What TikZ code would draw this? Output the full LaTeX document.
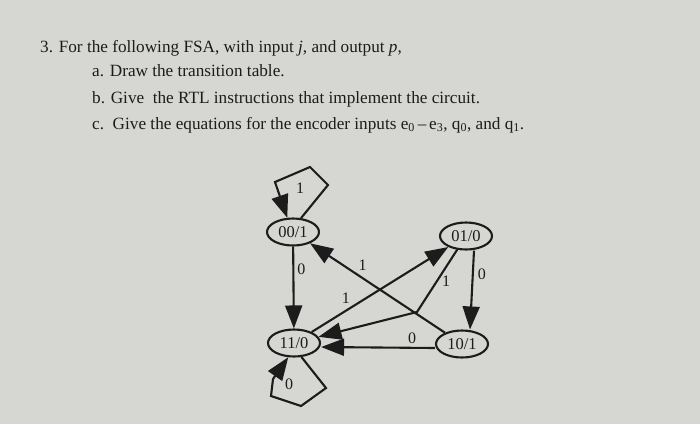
\documentclass[tikz,border=0pt]{standalone}
\usepackage{fontspec}
\setmainfont{Liberation Serif}
\usepackage{xcolor}
\usetikzlibrary{shapes.geometric, arrows.meta, positioning, calc}
\definecolor{paper}{HTML}{D6D6D3}
\definecolor{ink}{HTML}{1C1C1C}

\begin{document}
\begin{tikzpicture}[
    x=1pt, y=-1pt,
    line/.style={text=ink, font=\fontsize{17.2}{19}\selectfont, anchor=base west, inner sep=0pt},
    state/.style={ellipse, draw=ink, line width=2.1pt, minimum width=52pt, minimum height=27pt, inner sep=1pt, font=\fontsize{16.5}{17}\selectfont, text=ink},
    arrow/.style={-{Triangle[length=23pt, width=17pt]}, draw=ink, line width=2.1pt},
    lbl/.style={font=\fontsize{16}{17}\selectfont, text=ink, inner sep=1pt}
]
\fill[paper] (0,0) rectangle (700,424);
\useasboundingbox (0,0) rectangle (700,424);

\node[line] (q3) at (40,52) {3. For the following FSA, with input \textit{j}, and output \textit{p},};
\node[line] (qa) at (92,76) {a. Draw the transition table.};
\node[line] (qb) at (92,103) {b. Give\ \ the RTL instructions that implement the circuit.};
\node[line] (qc) at (92,129) {c.\ \ Give the equations for the encoder inputs e\textsubscript{0}\,--\,e\textsubscript{3}, q\textsubscript{0}, and q\textsubscript{1}.};

\node[state] (s00) at (293,232) {00/1};
\node[state] (s01) at (466,236) {01/0};
\node[state] (s11) at (294,343) {11/0};
\node[state] (s10) at (462,344) {10/1};
\coordinate (kink) at (417,312);

\draw[arrow] (s00.60) -- ($(s00)+(35,-47)$) -- ($(s00)+(17,-65)$) -- ($(s00)+(-18,-50)$) -- (s00.112);
\node[lbl] (l00) at ($(s00)+(7,-44)$) {1};
\draw[arrow] (s11.-62) -- ($(s11)+(32,45)$) -- ($(s11)+(7,63)$) -- ($(s11)+(-23,53)$) -- ($(s11)+(-21,36)$) -- (s11.-112);
\node[lbl] (l11) at ($(s11)+(-5,41)$) {0};

\draw[arrow] (s00) -- node[lbl, pos=0.28, right=2pt] (e1) {0} (s11);
\draw[arrow] ([xshift=8pt]s01.south) -- node[lbl, pos=0.3, right=3pt] (e2) {0} ([xshift=8pt]s10.north);
\draw[arrow] (s11) -- node[lbl, pos=0.3, above left=1pt] (e3) {1} (s01);
\draw[arrow] (s10) -- node[lbl, pos=0.66, above right=1pt] (e4) {1} (s00);
\draw[arrow] (s01) -- node[lbl, pos=0.5, right=3pt] (e5) {1} (kink) -- (s11);
\draw[arrow] ([yshift=-4pt]s10.west) -- node[lbl, pos=0.2, above=2pt] (e6) {0} ([yshift=-4pt]s11.east);
\end{tikzpicture}
\end{document}
